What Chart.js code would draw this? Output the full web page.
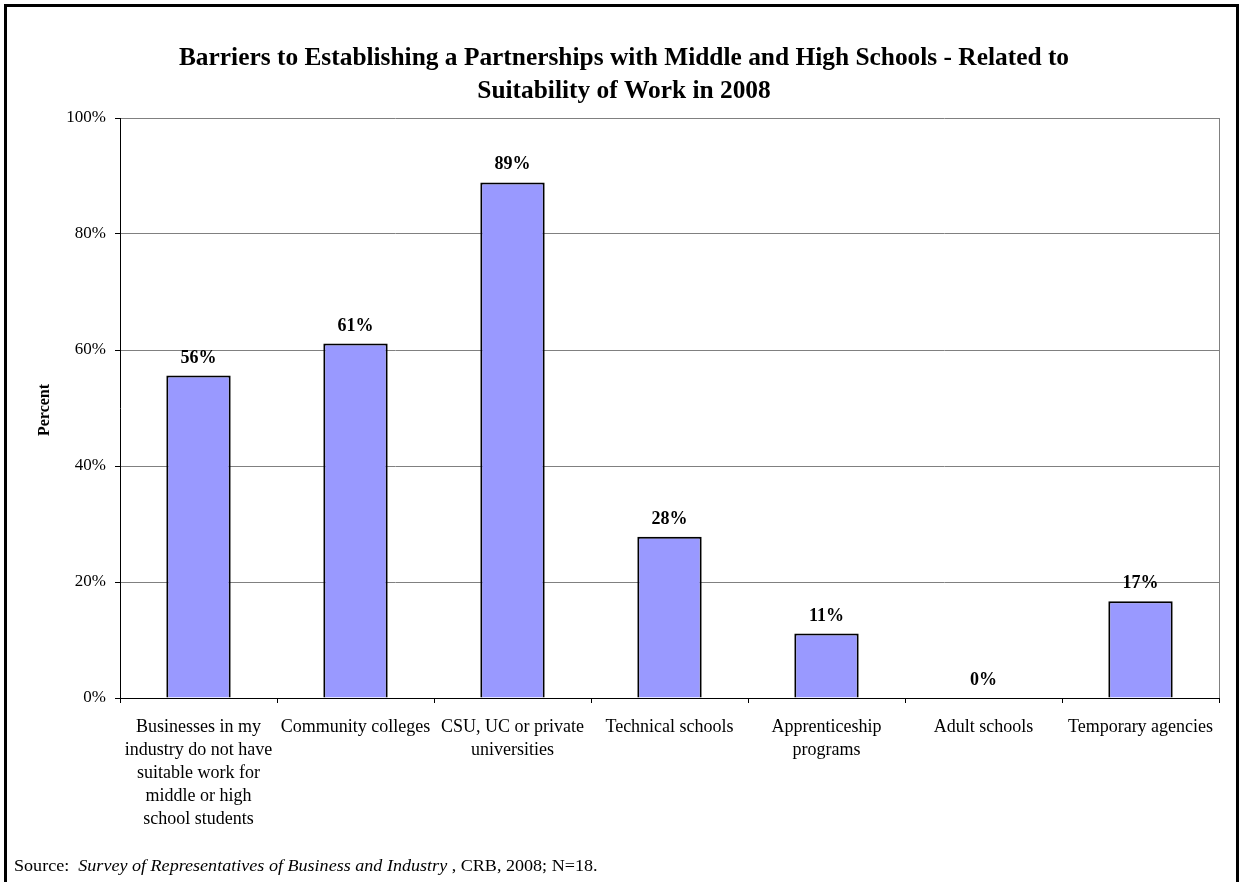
<!DOCTYPE html>
<html>
<head>
<meta charset="utf-8">
<script src="https://cdn.jsdelivr.net/npm/chart.js@4"></script>
<style>
  body { margin: 0; background: #fff; }
  canvas { display: block; }
</style>
</head>
<body>
<canvas id="chart-barriers" width="1242" height="882"></canvas>
<script>
const categories = [
  ['Businesses in my', 'industry do not have', 'suitable work for', 'middle or high', 'school students'],
  'Community colleges',
  ['CSU, UC or private', 'universities'],
  'Technical schools',
  ['Apprenticeship', 'programs'],
  'Adult schools',
  'Temporary agencies'
];
const percents = [55.6, 61.1, 88.9, 27.8, 11.1, 0, 16.7];
const yTicks = [0, 20, 40, 60, 80, 100];
const titleLines = [
  'Barriers to Establishing a Partnerships with Middle and High Schools - Related to',
  'Suitability of Work in 2008'
];

const serif = '"Liberation Serif", "Times New Roman", serif';

// frame, title, axis title, source note, data labels
const decorations = {
  id: 'decorations',
  afterDraw(chart) {
    const c = chart.ctx;
    const area = chart.chartArea;
    c.save();
    // right border of plot
    c.strokeStyle = '#808080';
    c.lineWidth = 1;
    c.beginPath();
    c.moveTo(Math.round(area.right) + 0.5, area.top);
    c.lineTo(Math.round(area.right) + 0.5, area.bottom);
    c.stroke();

    // outer frame
    c.fillStyle = '#000';
    c.fillRect(4, 4, 1235, 3);
    c.fillRect(4, 4, 3, 878);
    c.fillRect(1236, 4, 3, 878);

    // title
    c.textAlign = 'center';
    c.textBaseline = 'middle';
    c.font = 'bold 25.4px ' + serif;
    titleLines.forEach((t, i) => c.fillText(t, 624, 58 + i * 33));

    // y axis title
    c.save();
    c.translate(45, 410);
    c.rotate(-Math.PI / 2);
    c.font = 'bold 16px ' + serif;
    c.fillText('Percent', 0, 0);
    c.restore();

    // data labels
    c.font = 'bold 18px ' + serif;
    c.textBaseline = 'alphabetic';
    const meta = chart.getDatasetMeta(0);
    meta.data.forEach((bar, i) => {
      c.fillText(Math.round(percents[i]) + '%', bar.x, bar.y - 13);
    });

    // source (slightly wide type, as in the original)
    c.textAlign = 'left';
    c.translate(14, 871);
    c.scale(1.13, 1);
    let x = 0;
    c.font = '16px ' + serif;
    c.fillText('Source:  ', x, 0);
    x += c.measureText('Source:  ').width;
    c.font = 'italic 16px ' + serif;
    const it = 'Survey of Representatives of Business and Industry';
    c.fillText(it, x, 0);
    x += c.measureText(it).width;
    c.font = '16px ' + serif;
    c.fillText(' , CRB, 2008; N=18.', x, 0);
    c.restore();
  }
};

const ctx = document.getElementById('chart-barriers').getContext('2d');
new Chart(ctx, {
  type: 'bar',
  data: {
    labels: categories,
    datasets: [{
      data: percents,
      backgroundColor: '#9999ff',
      borderColor: '#000',
      borderWidth: 2,
      barPercentage: 0.41,
      categoryPercentage: 1
    }]
  },
  options: {
    responsive: false,
    devicePixelRatio: 1,
    animation: false,
    layout: { padding: { top: 118, right: 23, left: 0, bottom: 0 } },
    plugins: { legend: { display: false }, tooltip: { enabled: false } },
    scales: {
      x: {
        afterFit: s => { s.height = 184; },
        grid: { offset: true, drawOnChartArea: false, drawTicks: true, tickLength: 5, color: '#000' },
        border: { color: '#000', width: 1 },
        ticks: {
          maxRotation: 0, autoSkip: false, padding: 13, color: '#000',
          font: { family: serif, size: 18, lineHeight: 1.28 }
        }
      },
      y: {
        min: 0, max: 100,
        afterFit: s => { s.width = 120; },
        afterBuildTicks: s => { s.ticks = yTicks.map(v => ({ value: v })); },
        grid: { color: '#808080', tickLength: 5, tickColor: '#000' },
        border: { color: '#000', width: 1 },
        ticks: {
          padding: 9, color: '#000',
          font: { family: serif, size: 17 },
          callback: v => v + '%'
        }
      }
    }
  },
  plugins: [decorations]
});
</script>
</body>
</html>
